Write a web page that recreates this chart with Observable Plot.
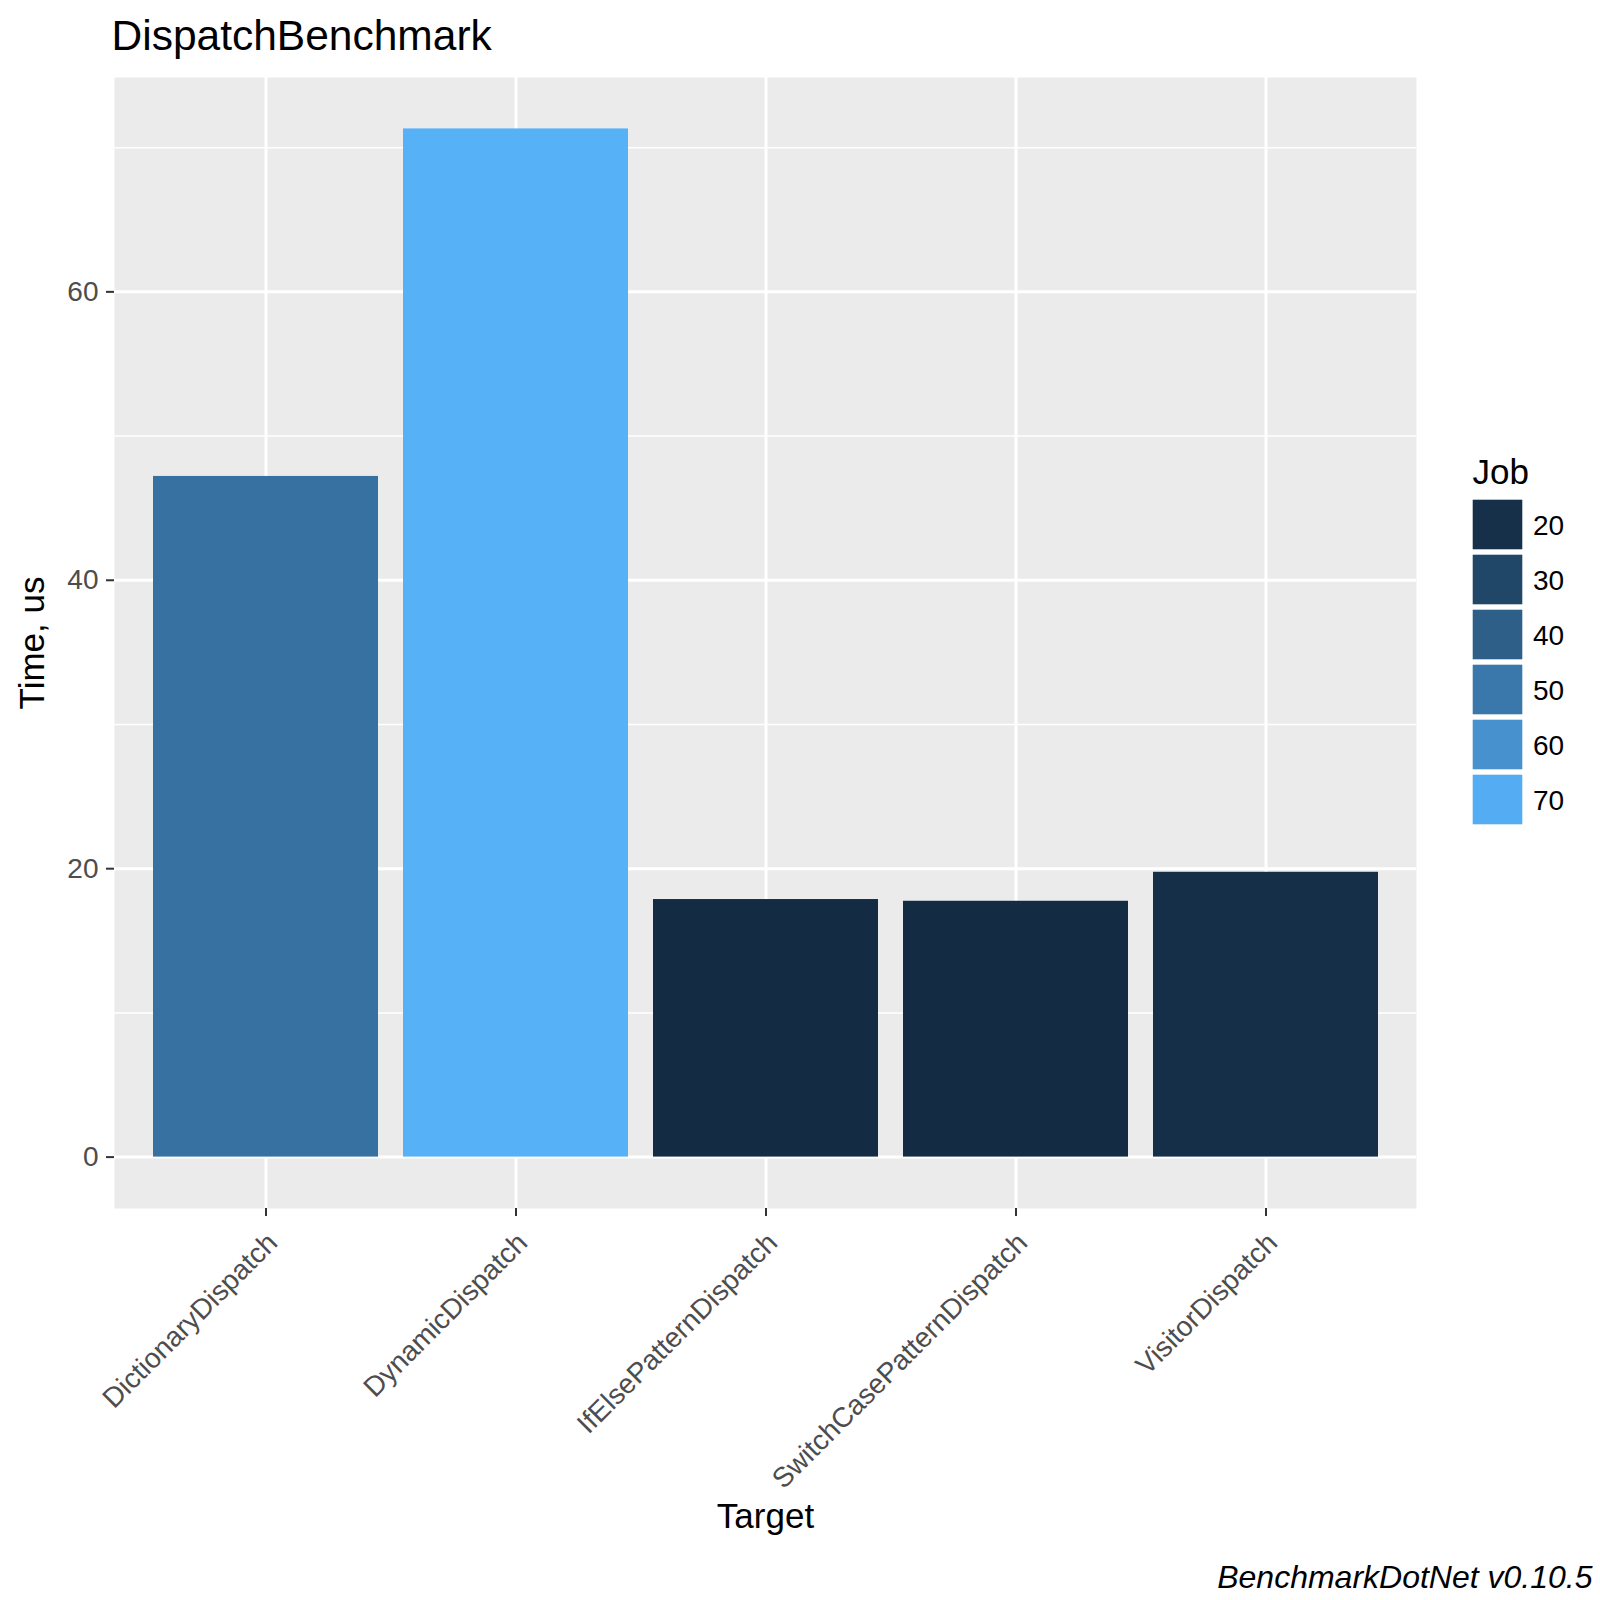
<!DOCTYPE html>
<html>
<head>
<meta charset="utf-8">
<script src="https://cdn.jsdelivr.net/npm/d3@7"></script>
<script src="https://cdn.jsdelivr.net/npm/@observablehq/plot@0.6"></script>
<style>
  html, body { margin: 0; padding: 0; background: #ffffff; }
  #wrap { position: relative; width: 1600px; height: 1600px; font-family: "Liberation Sans", Arial, sans-serif; }
  #wrap > svg { position: absolute; }
</style>
</head>
<body>
<div id="wrap"></div>
<script>
// ---- data ----
const targets = ["DictionaryDispatch", "DynamicDispatch", "IfElsePatternDispatch", "SwitchCasePatternDispatch", "VisitorDispatch"];
const times = [47.2, 71.3, 17.86, 17.74, 19.75];
const yMajorTicks = [0, 20, 40, 60];
const yMinorTicks = [10, 30, 50, 70];
const legendBreaks = [20, 30, 40, 50, 60, 70];
const titleText = "DispatchBenchmark";
const xTitle = "Target";
const yTitle = "Time, us";
const legendTitle = "Job";
const captionText = "BenchmarkDotNet v0.10.5";

const rows = targets.map((t, i) => ({target: t, time: times[i]}));
const font = "Liberation Sans, Arial, sans-serif";
const vmax = d3.max(times);
const colorScale = {
  type: "linear",
  domain: d3.extent(times),
  range: ["#132B43", "#56B1F7"],
  interpolate: d3.interpolateLab
};

const chart = Plot.plot({
  width: 1600,
  height: 1600,
  marginLeft: 114,
  marginRight: 184,
  marginTop: 77,
  marginBottom: 392,
  style: {fontFamily: font, background: "transparent", overflow: "visible"},
  x: {type: "band", domain: targets, paddingInner: 0.1, paddingOuter: 0.15, label: null},
  y: {domain: [-0.05 * vmax, 1.05 * vmax], label: null},
  color: colorScale,
  marks: [
    Plot.frame({fill: "#EBEBEB", stroke: null}),
    Plot.gridY(yMinorTicks, {stroke: "#FFFFFF", strokeOpacity: 1, strokeWidth: 1.5}),
    Plot.gridY(yMajorTicks, {stroke: "#FFFFFF", strokeOpacity: 1, strokeWidth: 3}),
    Plot.gridX({stroke: "#FFFFFF", strokeOpacity: 1, strokeWidth: 3}),
    Plot.barY(rows, {x: "target", y: "time", fill: "time"}),
    Plot.axisY(yMajorTicks, {tickSize: 8, tickPadding: 8, stroke: "#333333", strokeWidth: 2, fill: "#4D4D4D", fontSize: 28, label: null}),
    Plot.axisX({tickSize: 8, stroke: "#333333", strokeWidth: 2, fill: "none", label: null}),
    Plot.text(targets, {x: d => d, frameAnchor: "bottom", rotate: -45, textAnchor: "end", lineAnchor: "bottom", dx: 13, dy: 36, fontSize: 28, fill: "#4D4D4D"}),
    Plot.text([xTitle], {frameAnchor: "bottom", textAnchor: "middle", lineAnchor: "bottom", dy: 319, fontSize: 35, fill: "#000000"}),
    Plot.text([yTitle], {frameAnchor: "left", rotate: -90, textAnchor: "middle", lineAnchor: "bottom", dx: -71, fontSize: 35, fill: "#000000"}),
    Plot.text([titleText], {frameAnchor: "top-left", textAnchor: "start", lineAnchor: "bottom", dx: -3, dy: -28, fontSize: 42.5, fill: "#000000"}),
    Plot.text([captionText], {frameAnchor: "bottom-right", textAnchor: "end", lineAnchor: "bottom", dx: 176, dy: 379, fontSize: 32, fontStyle: "italic", fill: "#000000"})
  ]
});
chart.style.left = "0px";
chart.style.top = "0px";
document.getElementById("wrap").appendChild(chart);

const legend = Plot.plot({
  width: 130,
  height: 375,
  marginTop: 45,
  marginLeft: 0,
  marginRight: 75,
  marginBottom: 0,
  style: {fontFamily: font, background: "transparent", overflow: "visible"},
  x: {type: "band", domain: [0], padding: 0, axis: null},
  y: {type: "band", domain: legendBreaks, padding: 0, axis: null},
  color: colorScale,
  marks: [
    Plot.cell(legendBreaks, {x: () => 0, y: d => d, fill: d => d, inset: 2.7}),
    Plot.text(legendBreaks, {x: () => 0, y: d => d, text: d => String(d), dx: 35, dy: 1, textAnchor: "start", fontSize: 28, fill: "#000000"}),
    Plot.text([legendTitle], {frameAnchor: "top-left", textAnchor: "start", lineAnchor: "bottom", dx: 2, dy: -14, fontSize: 35, fill: "#000000"})
  ]
});
legend.style.left = "1470px";
legend.style.top = "452px";
document.getElementById("wrap").appendChild(legend);
</script>
</body>
</html>
